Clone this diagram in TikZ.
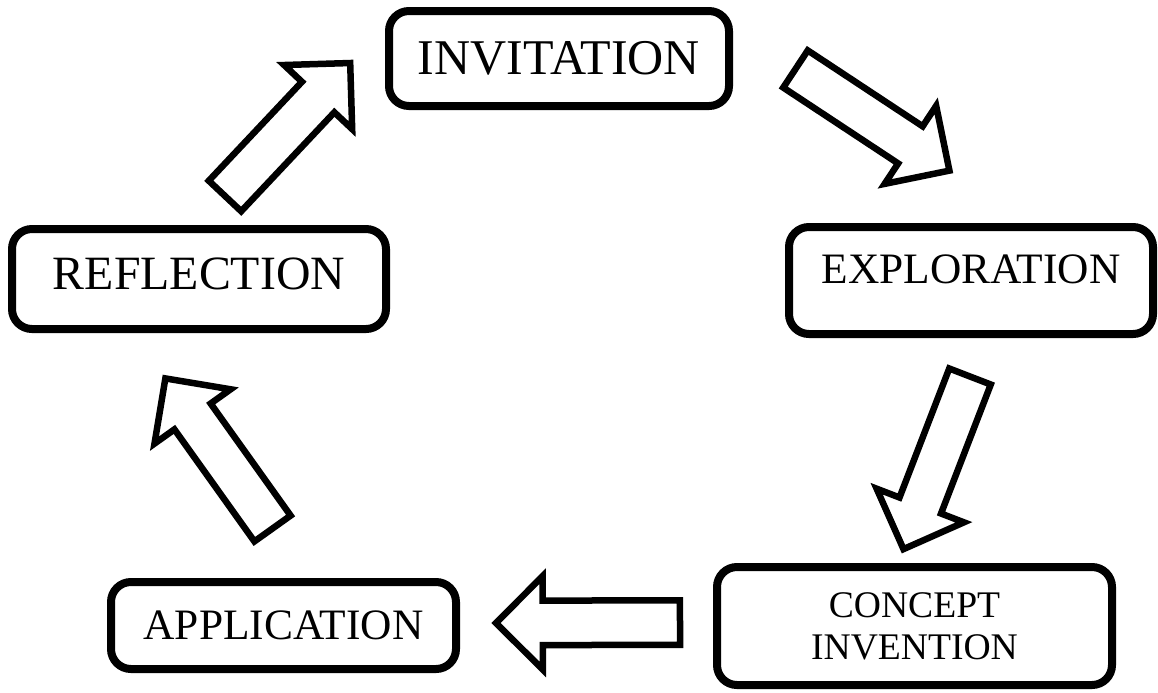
\documentclass[tikz,border=0pt]{standalone}
\usepackage{fontspec}
\setmainfont{Liberation Serif}
\usetikzlibrary{shapes.arrows, calc}

\tikzset{
  stage/.style={draw, line width=4pt, rounded corners=10pt, align=center, inner sep=0pt},
  cyclearrow/.style={single arrow, draw, fill=white, line width=3.25pt, inner xsep=0pt, inner ysep=9.5pt,
    single arrow head extend=12.25pt, outer sep=0pt, anchor=tail},
}

% hollow block arrow from one named point to another
\newcommand{\cycleto}[2]{%
  \path let \p1=(#1), \p2=(#2),
    \n1={atan2(\y2-\y1,\x2-\x1)}, \n2={veclen(\x2-\x1,\y2-\y1)} in
    node[cyclearrow, minimum height=\n2, rotate=\n1] at (#1) {};}

\begin{document}
\begin{tikzpicture}[x=0.5pt, y=-0.5pt]
    \useasboundingbox (0,0) rectangle (1158,692);
    % Stages of the cycle
    \node[stage, minimum width=170pt, minimum height=47.5pt, font=\fontsize{25}{30}\selectfont] (inv) at (559,58.5) {INVITATION};
    \node[stage, minimum width=182pt, minimum height=53.5pt, text depth=11.5pt, font=\fontsize{21.7}{26}\selectfont] (exp) at (971,280.5) {EXPLORATION};
    \node[stage, minimum width=197.5pt, minimum height=59pt, font=\fontsize{18.8}{21}\selectfont] (con) at (914.5,626) {CONCEPT\\INVENTION};
    \node[stage, minimum width=172.5pt, minimum height=43.5pt, font=\fontsize{21.7}{26}\selectfont] (app) at (283.5,625.5) {APPLICATION};
    \node[stage, minimum width=187pt, minimum height=50pt, text depth=5pt, font=\fontsize{23.9}{28}\selectfont] (ref) at (199,279) {REFLECTION};
    % Arrow ends
    \coordinate (inv-out) at (795.5,69);
    \coordinate (exp-in) at (949.7,170.8);
    \coordinate (exp-out) at (970,376.5);
    \coordinate (con-in) at (903.4,549.3);
    \coordinate (con-out) at (680,622.5);
    \coordinate (app-in) at (496,623);
    \coordinate (app-out) at (272.5,528.5);
    \coordinate (ref-in) at (165.3,378.3);
    \coordinate (ref-out) at (225,196);
    \coordinate (inv-in) at (350.3,62.9);
    % Block arrows
    \cycleto{inv-out}{exp-in}
    \cycleto{exp-out}{con-in}
    \cycleto{con-out}{app-in}
    \cycleto{app-out}{ref-in}
    \cycleto{ref-out}{inv-in}
\end{tikzpicture}
\end{document}
